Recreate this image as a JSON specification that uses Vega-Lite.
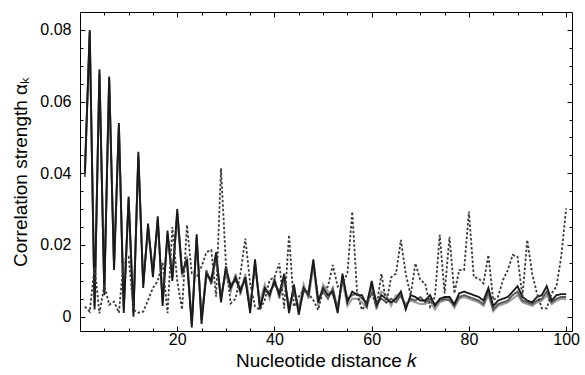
{
  "$schema": "https://vega.github.io/schema/vega-lite/v6.json",
  "width": 492,
  "height": 319,
  "autosize": {"type": "none"},
  "padding": {"left": 80, "top": 12, "right": 13, "bottom": 44},
  "background": "white",
  "config": {
    "view": {"stroke": "black", "strokeWidth": 1},
    "axis": {"domain": false, "grid": false, "tickColor": "black", "labelColor": "black", "titleColor": "black", "labelFont": "Liberation Sans", "titleFont": "Liberation Sans", "titleFontWeight": "normal", "labelFontSize": 15, "titleFontSize": 19}
  },
  "data": {"values": [
    {"k":1,"a":0.040,"b":0.039,"c":0.041,"r":0.0028},
    {"k":2,"a":0.080,"b":0.0795,"c":0.079,"r":0.0014},
    {"k":3,"a":0.002,"b":0.003,"c":0.004,"r":0.014},
    {"k":4,"a":0.069,"b":0.068,"c":0.0675,"r":0.0009},
    {"k":5,"a":0.006,"b":0.007,"c":0.009,"r":0.0088},
    {"k":6,"a":0.067,"b":0.0665,"c":0.066,"r":0.0033},
    {"k":7,"a":0.013,"b":0.014,"c":0.015,"r":0.0042},
    {"k":8,"a":0.054,"b":0.0535,"c":0.053,"r":0.0011},
    {"k":9,"a":0.001,"b":0.002,"c":0.003,"r":0.0158},
    {"k":10,"a":0.0335,"b":0.033,"c":0.032,"r":0.0167},
    {"k":11,"a":0.000,"b":0.001,"c":0.002,"r":0.0019},
    {"k":12,"a":0.046,"b":0.045,"c":0.044,"r":0.0011},
    {"k":13,"a":0.008,"b":0.009,"c":0.010,"r":0.0014},
    {"k":14,"a":0.026,"b":0.025,"c":0.024,"r":0.0046},
    {"k":15,"a":0.011,"b":0.012,"c":0.013,"r":0.008},
    {"k":16,"a":0.028,"b":0.027,"c":0.026,"r":0.010},
    {"k":17,"a":0.003,"b":0.004,"c":0.005,"r":0.015},
    {"k":18,"a":0.024,"b":0.023,"c":0.022,"r":0.001},
    {"k":19,"a":0.010,"b":0.011,"c":0.012,"r":0.025},
    {"k":20,"a":0.030,"b":0.029,"c":0.028,"r":0.010},
    {"k":21,"a":0.012,"b":0.013,"c":0.011,"r":0.002},
    {"k":22,"a":0.016,"b":0.015,"c":0.017,"r":0.0256},
    {"k":23,"a":-0.003,"b":-0.002,"c":-0.001,"r":0.012},
    {"k":24,"a":0.023,"b":0.022,"c":0.021,"r":0.011},
    {"k":25,"a":-0.002,"b":-0.001,"c":0.000,"r":0.014},
    {"k":26,"a":0.012,"b":0.013,"c":0.011,"r":0.018},
    {"k":27,"a":0.010,"b":0.009,"c":0.011,"r":0.0186},
    {"k":28,"a":0.018,"b":0.017,"c":0.016,"r":0.0056},
    {"k":29,"a":0.004,"b":0.005,"c":0.006,"r":0.0414},
    {"k":30,"a":0.014,"b":0.013,"c":0.012,"r":0.015},
    {"k":31,"a":0.008,"b":0.009,"c":0.007,"r":0.0037},
    {"k":32,"a":0.011,"b":0.010,"c":0.012,"r":0.005},
    {"k":33,"a":0.007,"b":0.008,"c":0.006,"r":0.012},
    {"k":34,"a":0.011,"b":0.010,"c":0.012,"r":0.0218},
    {"k":35,"a":0.001,"b":0.002,"c":0.003,"r":0.0093},
    {"k":36,"a":0.016,"b":0.015,"c":0.014,"r":0.0028},
    {"k":37,"a":0.002,"b":0.003,"c":0.004,"r":0.0019},
    {"k":38,"a":0.008,"b":0.007,"c":0.009,"r":0.0046},
    {"k":39,"a":0.006,"b":0.007,"c":0.005,"r":0.0102},
    {"k":40,"a":0.010,"b":0.009,"c":0.011,"r":0.011},
    {"k":41,"a":0.006,"b":0.007,"c":0.005,"r":0.0149},
    {"k":42,"a":0.012,"b":0.011,"c":0.010,"r":0.0023},
    {"k":43,"a":0.001,"b":0.002,"c":0.003,"r":0.0228},
    {"k":44,"a":0.009,"b":0.008,"c":0.007,"r":0.0028},
    {"k":45,"a":0.0005,"b":0.0015,"c":0.0025,"r":0.0056},
    {"k":46,"a":0.008,"b":0.007,"c":0.009,"r":0.0074},
    {"k":47,"a":0.006,"b":0.007,"c":0.005,"r":0.0065},
    {"k":48,"a":0.016,"b":0.015,"c":0.014,"r":0.0046},
    {"k":49,"a":0.004,"b":0.005,"c":0.003,"r":0.0019},
    {"k":50,"a":0.008,"b":0.007,"c":0.009,"r":0.0074},
    {"k":51,"a":0.006,"b":0.005,"c":0.007,"r":0.0084},
    {"k":52,"a":0.007,"b":0.008,"c":0.006,"r":0.0144},
    {"k":53,"a":0.001,"b":0.002,"c":0.003,"r":0.0084},
    {"k":54,"a":0.012,"b":0.011,"c":0.010,"r":0.0093},
    {"k":55,"a":0.004,"b":0.005,"c":0.003,"r":0.012},
    {"k":56,"a":0.007,"b":0.006,"c":0.005,"r":0.0293},
    {"k":57,"a":0.006,"b":0.0065,"c":0.005,"r":0.0065},
    {"k":58,"a":0.006,"b":0.005,"c":0.004,"r":0.0019},
    {"k":59,"a":0.003,"b":0.004,"c":0.0025,"r":0.0037},
    {"k":60,"a":0.010,"b":0.009,"c":0.008,"r":0.0065},
    {"k":61,"a":0.003,"b":0.004,"c":0.002,"r":0.0028},
    {"k":62,"a":0.006,"b":0.005,"c":0.007,"r":0.012},
    {"k":63,"a":0.005,"b":0.004,"c":0.006,"r":0.0037},
    {"k":64,"a":0.004,"b":0.005,"c":0.003,"r":0.011},
    {"k":65,"a":0.005,"b":0.004,"c":0.006,"r":0.012},
    {"k":66,"a":0.007,"b":0.006,"c":0.0055,"r":0.0214},
    {"k":67,"a":0.002,"b":0.003,"c":0.0035,"r":0.012},
    {"k":68,"a":0.006,"b":0.005,"c":0.0045,"r":0.006},
    {"k":69,"a":0.0055,"b":0.0045,"c":0.004,"r":0.0149},
    {"k":70,"a":0.0045,"b":0.0055,"c":0.0035,"r":0.0102},
    {"k":71,"a":0.0045,"b":0.004,"c":0.0035,"r":0.0093},
    {"k":72,"a":0.006,"b":0.005,"c":0.0045,"r":0.0028},
    {"k":73,"a":0.003,"b":0.0035,"c":0.002,"r":0.0056},
    {"k":74,"a":0.005,"b":0.0045,"c":0.004,"r":0.0228},
    {"k":75,"a":0.0055,"b":0.005,"c":0.0045,"r":0.0065},
    {"k":76,"a":0.0055,"b":0.0045,"c":0.005,"r":0.0223},
    {"k":77,"a":0.0035,"b":0.003,"c":0.0025,"r":0.0065},
    {"k":78,"a":0.0065,"b":0.0055,"c":0.005,"r":0.013},
    {"k":79,"a":0.007,"b":0.006,"c":0.0055,"r":0.013},
    {"k":80,"a":0.0065,"b":0.0055,"c":0.005,"r":0.0293},
    {"k":81,"a":0.006,"b":0.005,"c":0.0045,"r":0.011},
    {"k":82,"a":0.0055,"b":0.0045,"c":0.004,"r":0.0107},
    {"k":83,"a":0.0045,"b":0.0035,"c":0.003,"r":0.0093},
    {"k":84,"a":0.008,"b":0.007,"c":0.006,"r":0.0172},
    {"k":85,"a":0.003,"b":0.002,"c":0.0015,"r":0.0046},
    {"k":86,"a":0.0045,"b":0.0035,"c":0.003,"r":0.0056},
    {"k":87,"a":0.005,"b":0.004,"c":0.0035,"r":0.0102},
    {"k":88,"a":0.0055,"b":0.0045,"c":0.004,"r":0.013},
    {"k":89,"a":0.007,"b":0.006,"c":0.005,"r":0.0172},
    {"k":90,"a":0.0085,"b":0.007,"c":0.006,"r":0.0167},
    {"k":91,"a":0.0055,"b":0.0045,"c":0.004,"r":0.0056},
    {"k":92,"a":0.0045,"b":0.004,"c":0.0035,"r":0.0214},
    {"k":93,"a":0.004,"b":0.0035,"c":0.003,"r":0.012},
    {"k":94,"a":0.0055,"b":0.0045,"c":0.004,"r":0.0065},
    {"k":95,"a":0.006,"b":0.005,"c":0.0045,"r":0.0023},
    {"k":96,"a":0.0085,"b":0.007,"c":0.006,"r":0.0023},
    {"k":97,"a":0.0045,"b":0.004,"c":0.0035,"r":0.0065},
    {"k":98,"a":0.006,"b":0.005,"c":0.0045,"r":0.0084},
    {"k":99,"a":0.0063,"b":0.0055,"c":0.005,"r":0.017},
    {"k":100,"a":0.0063,"b":0.0055,"c":0.0048,"r":0.0302}
  ]},
  "resolve": {"scale": {"x": "shared", "y": "shared"}, "axis": {"x": "independent", "y": "independent"}},
  "layer": [
    {
      "transform": [{"fold": ["c", "b", "a", "r"], "as": ["s", "v"]}],
      "mark": {"type": "line", "clip": true},
      "encoding": {
        "x": {"field": "k", "type": "quantitative", "scale": {"domain": [0, 101.2], "nice": false, "zero": false},
              "axis": {"orient": "bottom", "values": [20, 40, 60, 80, 100], "tickSize": -5, "labelPadding": 5, "labelFontSize": 16, "title": "Nucleotide distance 𝑘", "titlePadding": 4}},
        "y": {"field": "v", "type": "quantitative", "scale": {"domain": [-0.004, 0.085], "nice": false, "zero": false},
              "axis": {"orient": "left", "values": [0, 0.02, 0.04, 0.06, 0.08], "tickSize": -5, "labelPadding": 14, "labelFontSize": 16, "labelExpr": "datum.value == 0 ? '0' : format(datum.value, '.2f')", "title": "Correlation strength αₖ", "titlePadding": 9}},
        "color": {"field": "s", "type": "nominal", "legend": null, "scale": {"domain": ["c", "b", "a", "r"], "range": ["#9a9a9a", "#5a5a5a", "#1a1a1a", "#3a3a3a"]}},
        "strokeDash": {"field": "s", "type": "nominal", "legend": null, "scale": {"domain": ["c", "b", "a", "r"], "range": [[1, 0], [1, 0], [1, 0], [2.5, 2]]}},
        "strokeWidth": {"field": "s", "type": "nominal", "legend": null, "scale": {"domain": ["c", "b", "a", "r"], "range": [2, 1.8, 1.6, 1.6]}}
      }
    },
    {
      "mark": {"type": "point", "opacity": 0},
      "encoding": {
        "x": {"field": "k", "type": "quantitative", "axis": {"orient": "bottom", "values": [5, 10, 15, 25, 30, 35, 45, 50, 55, 65, 70, 75, 85, 90, 95], "tickSize": -3, "labels": false, "title": null}},
        "y": {"field": "a", "type": "quantitative", "axis": {"orient": "left", "values": [0.005, 0.01, 0.015, 0.025, 0.03, 0.035, 0.045, 0.05, 0.055, 0.065, 0.07, 0.075], "tickSize": -3, "labels": false, "title": null}}
      }
    },
    {
      "mark": {"type": "point", "opacity": 0},
      "encoding": {
        "x": {"field": "k", "type": "quantitative", "axis": {"orient": "top", "values": [20, 40, 60, 80, 100], "tickSize": -5, "labels": false, "title": null}},
        "y": {"field": "a", "type": "quantitative", "axis": {"orient": "right", "values": [0, 0.02, 0.04, 0.06, 0.08], "tickSize": -5, "labels": false, "title": null}}
      }
    },
    {
      "mark": {"type": "point", "opacity": 0},
      "encoding": {
        "x": {"field": "k", "type": "quantitative", "axis": {"orient": "top", "values": [5, 10, 15, 25, 30, 35, 45, 50, 55, 65, 70, 75, 85, 90, 95], "tickSize": -3, "labels": false, "title": null}},
        "y": {"field": "a", "type": "quantitative", "axis": {"orient": "right", "values": [0.005, 0.01, 0.015, 0.025, 0.03, 0.035, 0.045, 0.05, 0.055, 0.065, 0.07, 0.075], "tickSize": -3, "labels": false, "title": null}}
      }
    }
  ]
}
